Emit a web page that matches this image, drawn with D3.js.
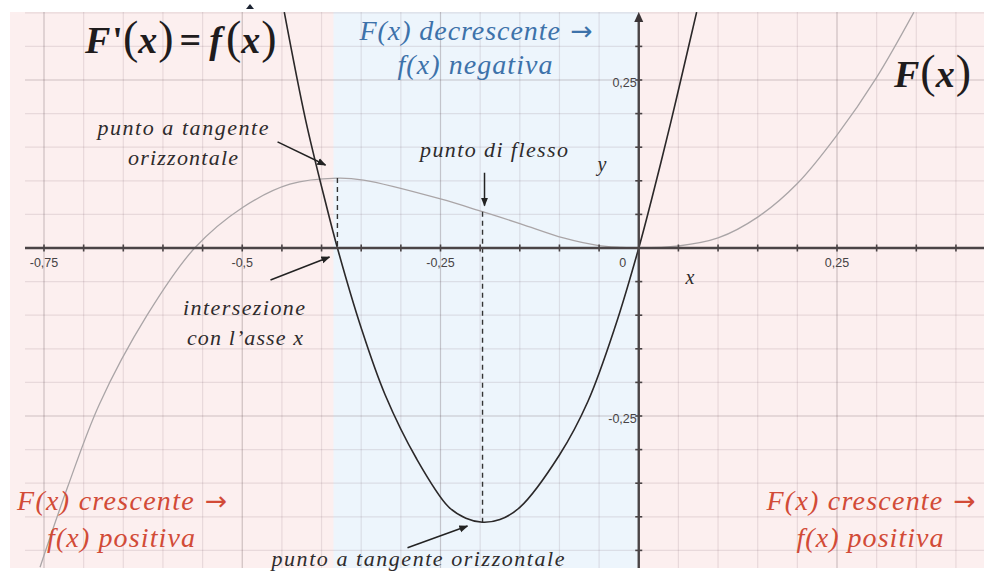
<!DOCTYPE html>
<html>
<head>
<meta charset="utf-8">
<script src="https://cdn.jsdelivr.net/npm/d3@7"></script>
<style>
  body { margin: 0; background: #fff; }
  svg { display: block; }
</style>
</head>
<body>
<svg id="chart" width="984" height="572"></svg>
<script>
// axis ticks (labels use the decimal comma)
const xTicks = [-0.75, -0.5, -0.25, 0, 0.25];
const xTickLabels = ["-0,75", "-0,5", "-0,25", "0", "0,25"];
const yTicks = [-0.25, 0.25];
const yTickLabels = ["-0,25", "0,25"];

// F(x), grey curve
const bigFx = [-0.755, -0.72, -0.68, -0.62, -0.56, -0.5, -0.44, -0.38, -0.347, -0.25, -0.197, -0.149, -0.095, -0.052, -0.023, 0, 0.05, 0.1, 0.15, 0.2, 0.25, 0.30, 0.347];
const bigFy = [-0.475, -0.355, -0.232, -0.10, 0, 0.06, 0.095, 0.104, 0.101, 0.073, 0.054, 0.036, 0.015, 0.004, 0.001, 0, 0.003, 0.015, 0.046, 0.096, 0.168, 0.254, 0.351];

// f(x) = F'(x), black curve
const smallFx = [-0.447, -0.42, -0.395, -0.38, -0.35, -0.32, -0.28, -0.24, -0.218, -0.197, -0.175, -0.15, -0.10, -0.064, -0.03, 0, 0.02, 0.04, 0.055, 0.073];
const smallFy = [0.351, 0.19, 0.068, 0, -0.119, -0.218, -0.314, -0.385, -0.402, -0.408, -0.404, -0.386, -0.308, -0.228, -0.118, 0, 0.09, 0.185, 0.26, 0.351];

// F decreasing between these x values
const decrFrom = -0.385, decrTo = 0;
const tangentX = -0.38, flexX = -0.197;

const svg = d3.select("#chart");
const x = d3.scaleLinear().domain([-0.75, 0.25]).range([44, 837]);
const y = d3.scaleLinear().domain([-0.25, 0.25]).range([416, 80]);

const pLeft = 10, pTop = 12, pRight = 984, pBottom = 568;

const defs = svg.append("defs");
defs.append("clipPath").attr("id", "plotclip")
  .append("rect").attr("x", pLeft).attr("y", pTop).attr("width", pRight - pLeft).attr("height", pBottom - pTop);

defs.append("marker")
  .attr("id", "ah").attr("viewBox", "0 0 10 10")
  .attr("refX", 9).attr("refY", 5)
  .attr("markerWidth", 6).attr("markerHeight", 6)
  .attr("orient", "auto")
  .append("path").attr("d", "M0,1 L10,5 L0,9 z").attr("fill", "#222");

// backgrounds
svg.append("rect").attr("x", pLeft).attr("y", pTop).attr("width", pRight - pLeft).attr("height", pBottom - pTop)
  .attr("fill", "#fcefef");
svg.append("rect").attr("x", x(decrFrom)).attr("y", pTop)
  .attr("width", x(decrTo) - x(decrFrom)).attr("height", pBottom - pTop)
  .attr("fill", "#edf5fc");

// grid, every 0.05, darker every 0.25
const isMajor = v => Math.abs(v / 0.25 - Math.round(v / 0.25)) < 1e-6 && Math.abs(v) > 1e-6;
const gx = d3.range(-15, 9).map(i => +(i * 0.05).toFixed(2));
const gy = d3.range(-9, 8).map(i => +(i * 0.05).toFixed(2));
const grid = svg.append("g");
grid.selectAll("line.v").data(gx).join("line")
  .attr("x1", d => x(d)).attr("x2", d => x(d))
  .attr("y1", pTop).attr("y2", pBottom)
  .attr("stroke", d => isMajor(d) ? "rgba(70,50,55,0.25)" : "rgba(90,60,70,0.12)")
  .attr("stroke-width", 1.2);
grid.selectAll("line.h").data(gy).join("line")
  .attr("y1", d => y(d)).attr("y2", d => y(d))
  .attr("x1", 25).attr("x2", pRight)
  .attr("stroke", d => isMajor(d) ? "rgba(70,50,55,0.25)" : "rgba(90,60,70,0.12)")
  .attr("stroke-width", 1.2);

// curves
const plot = svg.append("g").attr("clip-path", "url(#plotclip)");
const line = d3.line().x(d => x(d[0])).y(d => y(d[1])).curve(d3.curveCatmullRom.alpha(0.5));

plot.append("path").datum(d3.zip(bigFx, bigFy))
  .attr("d", line).attr("fill", "none").attr("stroke", "#aaa5a7").attr("stroke-width", 1.3);

// dashed guides
const fAtTangent = bigFy[bigFx.indexOf(tangentX)];
const fAtFlex = bigFy[bigFx.indexOf(flexX)];
const fMin = smallFy[smallFx.indexOf(flexX)];
plot.append("line").attr("x1", x(tangentX)).attr("x2", x(tangentX))
  .attr("y1", y(fAtTangent)).attr("y2", y(0))
  .attr("stroke", "#333").attr("stroke-width", 1.4).attr("stroke-dasharray", "5,4");
plot.append("line").attr("x1", x(flexX)).attr("x2", x(flexX))
  .attr("y1", y(fAtFlex)).attr("y2", y(fMin))
  .attr("stroke", "#333").attr("stroke-width", 1.4).attr("stroke-dasharray", "5,4");

// axes
const axes = svg.append("g").attr("stroke", "#4a4446");
axes.append("line").attr("x1", 25).attr("x2", pRight).attr("y1", y(0)).attr("y2", y(0)).attr("stroke-width", 2.4);
axes.append("line").attr("x1", x(0)).attr("x2", x(0)).attr("y1", pBottom).attr("y2", pTop + 6).attr("stroke-width", 2.4);
svg.append("path")
  .attr("d", `M${x(0)},${pTop} L${x(0) - 4.5},${pTop + 10} L${x(0) + 4.5},${pTop + 10} z`)
  .attr("fill", "#3a3436");

const xt = d3.range(-15, 9).map(i => +(i * 0.05).toFixed(2)).filter(v => x(v) > 26 && v !== 0);
axes.selectAll("line.xt").data(xt).join("line")
  .attr("x1", d => x(d)).attr("x2", d => x(d))
  .attr("y1", y(0) - 3.5).attr("y2", y(0) + 3.5).attr("stroke-width", 1.6);
const yt = d3.range(-9, 8).map(i => +(i * 0.05).toFixed(2)).filter(v => v !== 0 && y(v) > pTop + 12);
axes.selectAll("line.yt").data(yt).join("line")
  .attr("y1", d => y(d)).attr("y2", d => y(d))
  .attr("x1", x(0) - 3.5).attr("x2", x(0) + 3.5).attr("stroke-width", 1.6);

const tickFont = "'Liberation Sans', Arial, sans-serif";
svg.selectAll("text.xl").data(xTicks).join("text")
  .attr("x", (d, i) => d === 0 ? x(d) - 16 : x(d))
  .attr("y", y(0) + 19)
  .attr("text-anchor", "middle")
  .attr("font-family", tickFont).attr("font-size", 12.5).attr("fill", "#474345")
  .text((d, i) => xTickLabels[i]);
svg.selectAll("text.yl").data(yTicks).join("text")
  .attr("x", x(0) - 2)
  .attr("y", d => y(d) + 7)
  .attr("text-anchor", "end")
  .attr("font-family", tickFont).attr("font-size", 12.5).attr("fill", "#474345")
  .text((d, i) => yTickLabels[i]);

// f(x) on top
plot.append("path").datum(d3.zip(smallFx, smallFy))
  .attr("d", line).attr("fill", "none").attr("stroke", "#2b2829").attr("stroke-width", 1.6);

// annotation text
const serif = "'Liberation Serif', 'Times New Roman', serif";
function label(txt, cx, by, size, color, width, arrow) {
  const t = svg.append("text")
    .attr("x", cx).attr("y", by)
    .attr("text-anchor", "middle")
    .attr("font-family", serif).attr("font-style", "italic")
    .attr("font-size", size).attr("fill", color);
  t.append("tspan").text(txt);
  if (arrow) {
    t.append("tspan").attr("font-family", "'DejaVu Sans', sans-serif").attr("font-style", "normal")
      .attr("font-size", size * 0.95).text(" \u2192");
  }
  if (width) t.attr("textLength", width).attr("lengthAdjust", "spacing");
  return t;
}
const blue = "#3d72aa", red = "#d24b37", ink = "#2e2b2c";

label("F(x) decrescente", 476, 40, 28, blue, 233, true);
label("f(x) negativa", 475, 74, 28, blue, 155);
label("F(x) crescente", 122, 510, 28, red, 210, true);
label("f(x) positiva", 121, 547, 28, red, 148);
label("F(x) crescente", 871, 510, 28, red, 209, true);
label("f(x) positiva", 870, 547, 28, red, 147);

label("punto a tangente", 183, 135, 22, ink, 171);
label("orizzontale", 183, 165, 22, ink, 110);
label("punto di flesso", 494, 157, 22, ink, 148);
label("intersezione", 244, 315, 22, ink, 122);
label("con l\u2019asse x", 245, 345, 22, ink, 116);
label("punto a tangente orizzontale", 418, 566, 22, ink, 293);
label("y", 602, 171, 20, ink);
label("x", 690, 284, 20, ink);

// arrows (data units)
const arrows = [
  [[-0.4555, 0.158], [-0.395, 0.1235]],
  [[-0.1945, 0.112], [-0.1945, 0.063]],
  [[-0.4644, -0.0476], [-0.39, -0.0134]],
  [[-0.2916, -0.446], [-0.216, -0.4137]]
];
svg.selectAll("line.arr").data(arrows).join("line")
  .attr("x1", d => x(d[0][0])).attr("y1", d => y(d[0][1]))
  .attr("x2", d => x(d[1][0])).attr("y2", d => y(d[1][1]))
  .attr("stroke", "#222").attr("stroke-width", 1.5)
  .attr("marker-end", "url(#ah)");

// big formulas
function formula(x0, by, parts) {
  const t = svg.append("text").attr("x", x0).attr("y", by)
    .attr("font-family", serif).attr("font-weight", "bold").attr("fill", "#1f1c1d");
  parts.forEach(p => {
    t.append("tspan")
      .attr("font-size", p[1] ? 46 : 38)
      .attr("font-weight", p[1] ? "normal" : "bold")
      .attr("font-style", p[2] ? "italic" : "normal")
      .attr("dx", p[3] || 0)
      .text(p[0]);
  });
}
// [text, isParen, italic, dx]
formula(85, 53, [["F", 0, 1], ["'", 0, 0, 2], ["(", 1, 0], ["x", 0, 1], [")", 1, 0, 1], ["=", 0, 0, 6], ["f", 0, 1, 8], ["(", 1, 0, 4], ["x", 0, 1], [")", 1, 0, 1]]);
formula(894, 87, [["F", 0, 1], ["(", 1, 0, 1], ["x", 0, 1], [")", 1, 0, 1]]);

// stray mark at the top edge
svg.append("path").attr("d", "M246,9 L250,4 L254,9 z").attr("fill", "#1d2433");
</script>
</body>
</html>
